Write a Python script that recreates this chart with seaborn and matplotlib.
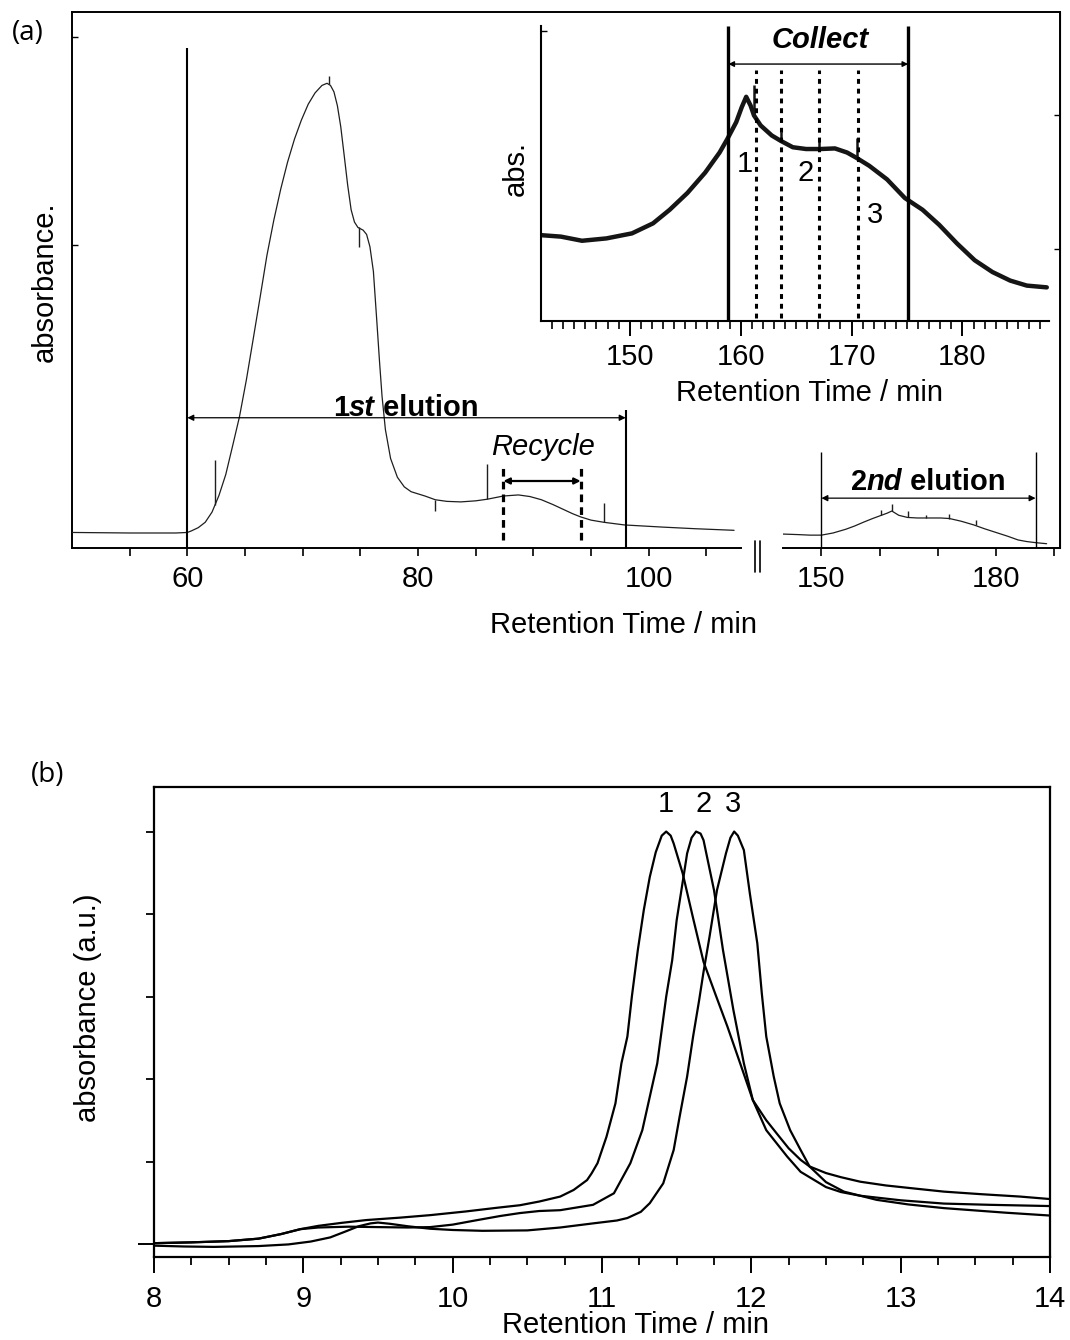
import numpy as np
import pandas as pd
import matplotlib
matplotlib.use("Agg")
import matplotlib.pyplot as plt
import seaborn as sns
from matplotlib.lines import Line2D
from matplotlib.ticker import FixedLocator, NullFormatter

# ---------------- data ----------------
# panel (a) first elution (left part of broken axis)
main_t = [50, 55, 59, 60, 60.36, 60.95, 61.55, 62.14, 62.74, 63.33, 63.93, 64.52, 65.12, 65.71,
          66.31, 66.9, 67.5, 68.1, 68.69, 69.29, 69.88, 70.48, 71.07, 71.67, 72.11, 72.41, 72.71,
          73.01, 73.3, 73.6, 73.9, 74.2, 74.49, 74.79, 75.24, 75.54, 75.83, 76.13, 76.43, 76.67,
          76.88, 77.17, 77.62, 78.21, 78.81, 79.4, 80.6, 81.5, 82.5, 83.7, 85.0, 86.0, 87.4,
          88.7, 89.7, 90.7, 91.7, 92.6, 93.4, 94.1, 95.0, 96.1, 97.9, 101.2, 104.0, 107.4]
main_a = [0.029, 0.028, 0.028, 0.029, 0.032, 0.038, 0.048, 0.067, 0.098, 0.137, 0.191, 0.245,
          0.314, 0.39, 0.468, 0.546, 0.612, 0.67, 0.72, 0.763, 0.798, 0.828, 0.849, 0.863, 0.867,
          0.863, 0.851, 0.825, 0.786, 0.732, 0.677, 0.631, 0.608, 0.598, 0.593, 0.585, 0.562,
          0.516, 0.422, 0.345, 0.283, 0.221, 0.167, 0.132, 0.114, 0.105, 0.097, 0.09, 0.087,
          0.086, 0.088, 0.091, 0.097, 0.099, 0.096, 0.09, 0.081, 0.072, 0.064, 0.058, 0.052,
          0.048, 0.043, 0.039, 0.036, 0.033]
main_spike_t = [62.4, 72.3, 74.9, 81.5, 86.0, 96.1]
main_spike_lo = [0.08, 0.866, 0.562, 0.069, 0.091, 0.048]
main_spike_hi = [0.165, 0.880, 0.598, 0.090, 0.157, 0.084]

# panel (a) second elution (right part of broken axis)
sec_t = [143.4, 146, 148, 150, 152, 154.2, 155.7, 157.2, 158.8, 160.3, 161.3, 162.1, 162.7, 163.3,
         164.8, 166.5, 168.6, 170.5, 172, 174, 176.2, 178, 180, 182, 183.8, 185.3, 186.8, 188.7]
sec_a = [0.026, 0.025, 0.024, 0.024, 0.028, 0.035, 0.041, 0.048, 0.055, 0.061, 0.065, 0.069,
         0.065, 0.061, 0.057, 0.056, 0.056, 0.056, 0.055, 0.05, 0.043, 0.036, 0.029, 0.022,
         0.015, 0.012, 0.010, 0.008]
sec_spike_t = [160.3, 162.2, 164.8, 168.0, 172.0, 176.5]
sec_spike_lo = [0.061, 0.069, 0.057, 0.056, 0.055, 0.043]
sec_spike_hi = [0.071, 0.082, 0.069, 0.062, 0.064, 0.052]

# inset: zoom of the recycled fraction
ins_t = [142, 143.8, 145.7, 147.9, 150.2, 152.1, 153.6, 155.2, 156.8, 158.1, 158.8, 159.6, 160.1,
         160.5, 160.9, 161.2, 161.8, 162.8, 163.6, 164.7, 165.9, 167.2, 168.5, 169.6, 170.4,
         171.6, 173.2, 174.8, 176.4, 177.9, 179.5, 181.1, 182.7, 184.3, 185.8, 187.6]
ins_a = [0.291, 0.286, 0.272, 0.28, 0.297, 0.331, 0.377, 0.434, 0.503, 0.571, 0.617, 0.674, 0.725,
         0.76, 0.73, 0.697, 0.663, 0.629, 0.611, 0.589, 0.583, 0.583, 0.585, 0.571, 0.554, 0.526,
         0.48, 0.417, 0.377, 0.326, 0.263, 0.206, 0.166, 0.137, 0.12, 0.114]
ins_spike_t = [158.9, 161.2, 163.6, 167.1, 170.5]
ins_spike_lo = [0.617, 0.697, 0.611, 0.583, 0.554]
ins_spike_hi = [0.670, 0.800, 0.640, 0.620, 0.620]

# markers (retention times, min)
first_elution = [60, 98]
recycle_cut = [87.4, 94.1]
second_elution = [150, 186.8]
collect_cut = [158.9, 175.1]
fraction_cut = [161.4, 163.6, 167.1, 170.6]
fraction_labels = ["1", "2", "3"]
fraction_label_t = [160.4, 165.9, 172.1]
fraction_label_a = [0.531, 0.503, 0.36]

# panel (b): analytical chromatograms of fractions 1-3
b_t1 = [8.0, 8.25, 8.5, 8.7, 8.85, 8.98, 9.1, 9.25, 9.42, 9.65, 9.85, 10.09, 10.3, 10.45, 10.58,
        10.72, 10.81, 10.9, 10.93, 10.97, 11.03, 11.09, 11.13, 11.17, 11.2, 11.24, 11.28, 11.32,
        11.36, 11.4, 11.43, 11.46, 11.48, 11.54, 11.61, 11.68, 11.76, 11.84, 11.93, 12.01, 12.1,
        12.17, 12.25, 12.33, 12.39, 12.5, 12.6, 12.73, 12.9, 13.08, 13.29, 13.53, 13.8, 14.0]
b_y1 = [0.002, 0.004, 0.007, 0.013, 0.024, 0.036, 0.044, 0.051, 0.058, 0.064, 0.07, 0.079, 0.088,
        0.094, 0.103, 0.115, 0.131, 0.155, 0.171, 0.196, 0.26, 0.341, 0.438, 0.503, 0.6, 0.713,
        0.81, 0.89, 0.95, 0.99, 1.0, 0.99, 0.971, 0.899, 0.79, 0.684, 0.605, 0.527, 0.433, 0.349,
        0.3, 0.268, 0.232, 0.204, 0.188, 0.172, 0.162, 0.151, 0.142, 0.135, 0.127, 0.121, 0.115,
        0.109]
b_t2 = [8.0, 8.25, 8.5, 8.7, 8.85, 8.98, 9.1, 9.3, 9.5, 9.7, 9.85, 10.0, 10.15, 10.32, 10.45,
        10.58, 10.72, 10.94, 11.08, 11.19, 11.27, 11.32, 11.37, 11.4, 11.43, 11.47, 11.5, 11.55,
        11.57, 11.6, 11.63, 11.66, 11.68, 11.75, 11.81, 11.88, 11.95, 12.01, 12.1, 12.24, 12.33,
        12.5, 12.6, 12.73, 13.0, 13.29, 13.6, 14.0]
b_y2 = [0.002, 0.004, 0.007, 0.013, 0.024, 0.036, 0.04, 0.042, 0.041, 0.04, 0.041, 0.047, 0.057,
        0.068, 0.075, 0.08, 0.082, 0.095, 0.123, 0.196, 0.276, 0.357, 0.438, 0.519, 0.6, 0.688,
        0.785, 0.9, 0.947, 0.985, 1.0, 0.995, 0.979, 0.858, 0.713, 0.567, 0.438, 0.349, 0.276,
        0.212, 0.175, 0.138, 0.126, 0.117, 0.106, 0.098, 0.095, 0.092]
b_t3 = [8.0, 8.2, 8.4, 8.7, 8.9, 9.05, 9.18, 9.28, 9.37, 9.45, 9.5, 9.58, 9.7, 9.85, 10.0, 10.2,
        10.5, 10.72, 10.94, 11.1, 11.17, 11.26, 11.32, 11.41, 11.48, 11.52, 11.57, 11.61, 11.65,
        11.68, 11.72, 11.77, 11.83, 11.86, 11.885, 11.91, 11.95, 11.99, 12.04, 12.07, 12.1, 12.15,
        12.19, 12.26, 12.33, 12.39, 12.5, 12.62, 12.84, 13.05, 13.29, 13.7, 14.0]
b_y3 = [-0.004, -0.006, -0.007, -0.005, -0.001, 0.006, 0.016, 0.03, 0.043, 0.05, 0.052, 0.049,
        0.043, 0.037, 0.034, 0.032, 0.033, 0.04, 0.05, 0.057, 0.063, 0.078, 0.099, 0.147, 0.228,
        0.309, 0.406, 0.503, 0.59, 0.66, 0.745, 0.858, 0.947, 0.985, 1.0, 0.99, 0.955, 0.85,
        0.729, 0.608, 0.503, 0.406, 0.341, 0.276, 0.228, 0.188, 0.15, 0.127, 0.107, 0.096, 0.087,
        0.076, 0.069]
b_peak_labels = ["1", "2", "3"]
b_peak_t = [11.43, 11.68, 11.88]

# ---------------- layout helpers ----------------
W, H = 1070, 1340
sns.set_style("ticks")
plt.rcParams["font.family"] = ["Liberation Sans", "DejaVu Sans"]
plt.rcParams.update({
    "axes.edgecolor": "black", "xtick.color": "black", "ytick.color": "black",
    "text.color": "black", "axes.labelcolor": "black",
})

fig = plt.figure(figsize=(W / 100, H / 100), dpi=100)


def rect(l, t, r, b):
    return [l / W, 1 - b / H, (r - l) / W, (b - t) / H]


def px(x, y):
    return (x / W, 1 - y / H)


FS = 21
INK = "black"
LINE = "#1e1e1e"


def mixed(ax, x, y, parts, size=FS):
    """Chain text pieces (text, weight, style) left-to-right sharing the same bottom."""
    s, w, st = parts[0]
    prev = ax.text(x, y, s, fontsize=size, fontweight=w, fontstyle=st, ha="left", va="bottom")
    for s, w, st in parts[1:]:
        prev = ax.annotate(s, xy=(1, 0), xycoords=prev, fontsize=size, fontweight=w,
                           fontstyle=st, ha="left", va="bottom")


def darrow(ax, x0, x1, y, lw=1.0, ms=10):
    ax.annotate("", xy=(x1, y), xytext=(x0, y),
                arrowprops=dict(arrowstyle="<|-|>", color=INK, lw=lw, mutation_scale=ms,
                                shrinkA=0, shrinkB=0))


# ---------------- panel (a): frame ----------------
axf = fig.add_axes(rect(72, 12, 1060, 548), facecolor="white")
axf.set_xlim(0, 1)
axf.set_ylim(0, 1)
axf.spines["bottom"].set_visible(False)
for s in ["top", "left", "right"]:
    axf.spines[s].set_linewidth(1.4)
axf.set_xticks([])
axf.set_yticks([0.953, 0.565])
axf.tick_params(axis="y", direction="in", length=4, width=1, labelleft=False)
sec = axf.secondary_yaxis("right")
sec.set_yticks([0.808, 0.558])
sec.tick_params(axis="y", direction="in", length=4, width=1, labelright=False)

# left part (50-108 min)
axL = fig.add_axes(rect(72, 12, 741, 548), facecolor="none")
for s in ["top", "left", "right"]:
    axL.spines[s].set_visible(False)
axL.spines["bottom"].set_linewidth(1.4)
sns.lineplot(x=main_t, y=main_a, ax=axL, color=LINE, lw=0.9, estimator=None, sort=False,
             legend=False)
axL.vlines(main_spike_t, main_spike_lo, main_spike_hi, color=LINE, lw=1.0)
axL.set_xlim(50, 108)
axL.set_ylim(0, 1)
axL.set_yticks([])
axL.xaxis.set_major_locator(FixedLocator([60, 80, 100]))
axL.xaxis.set_minor_locator(FixedLocator([55, 65, 70, 75, 85, 90, 95, 105]))
axL.tick_params(axis="x", which="both", direction="out", length=5.5, width=1.2, labelsize=FS,
                pad=6.5)
axL.set_xlabel("")
axL.set_ylabel("")

axL.vlines([first_elution[0]], 0, 0.933, color=INK, lw=1.5)
axL.vlines([first_elution[1]], 0, 0.257, color=INK, lw=1.5)
darrow(axL, first_elution[0], first_elution[1], 0.243, lw=0.9, ms=9)
mixed(axL, 72.6, 0.236, [("1", "bold", "normal"), ("st", "bold", "italic"),
                         (" elution", "bold", "normal")])

axL.vlines(recycle_cut, 0.015, 0.151, color=INK, lw=2.3, linestyles=(0, (2.4, 1.6)))
darrow(axL, recycle_cut[0], recycle_cut[1], 0.125, lw=1.6, ms=9)
axL.text(sum(recycle_cut) / 2 + 0.1, 0.188, "Recycle", fontsize=FS, fontstyle="italic",
         ha="center", va="center")

# right part (143-191 min)
axR = fig.add_axes(rect(783, 12, 1060, 548), facecolor="none")
for s in ["top", "left", "right"]:
    axR.spines[s].set_visible(False)
axR.spines["bottom"].set_linewidth(1.4)
sns.lineplot(x=sec_t, y=sec_a, ax=axR, color=LINE, lw=0.9, estimator=None, sort=False,
             legend=False)
axR.vlines(sec_spike_t, sec_spike_lo, sec_spike_hi, color=LINE, lw=1.0)
axR.set_xlim(143.4, 191)
axR.set_ylim(0, 1)
axR.set_yticks([])
axR.xaxis.set_major_locator(FixedLocator([150, 180]))
axR.xaxis.set_minor_locator(FixedLocator([160, 170, 190]))
axR.tick_params(axis="x", which="both", direction="out", length=5.5, width=1.2, labelsize=FS,
                pad=6.5)
axR.set_xlabel("")
axR.set_ylabel("")
axR.vlines(second_elution, 0, 0.18, color=INK, lw=1.0)
darrow(axR, second_elution[0], second_elution[1], 0.093, lw=0.9, ms=9)
mixed(axR, 155.0, 0.097, [("2", "bold", "normal"), ("nd", "bold", "italic"),
                          (" elution", "bold", "normal")])

# axis break marks
for bx in (755, 760):
    fig.add_artist(Line2D([bx / W, bx / W], [1 - 541 / H, 1 - 572 / H], color=INK, lw=1.2))

fig.text(*px(623, 625), "Retention Time / min", fontsize=FS, ha="center", va="center")
fig.text(*px(45, 282), "absorbance.", fontsize=FS, rotation=90, ha="center", va="center")
fig.text(*px(28, 33), "(a)", fontsize=20, ha="center", va="center",
         family=["Open Sans", "DejaVu Sans"])

# ---------------- inset ----------------
axI = fig.add_axes(rect(541, 26, 1049, 321), facecolor="none")
axI.spines["top"].set_visible(False)
axI.spines["right"].set_visible(False)
axI.spines["left"].set_linewidth(1.5)
axI.spines["bottom"].set_linewidth(1.5)
sns.lineplot(x=ins_t, y=ins_a, ax=axI, color="#151515", lw=3.2, estimator=None, sort=False,
             legend=False)
axI.vlines(ins_spike_t, ins_spike_lo, ins_spike_hi, color="#151515", lw=1.8)
axI.set_xlim(142, 187.8)
axI.set_ylim(0, 1)
axI.set_yticks([0.983])
axI.tick_params(axis="y", direction="in", length=4, width=1, labelleft=False)
axI.xaxis.set_major_locator(FixedLocator([150, 160, 170, 180]))
axI.xaxis.set_minor_locator(FixedLocator([t for t in range(143, 188) if t % 10 != 0]))
axI.tick_params(axis="x", which="major", direction="out", length=11, width=1.4, labelsize=FS,
                pad=5)
axI.tick_params(axis="x", which="minor", direction="out", length=6, width=1.2)
axI.set_xlabel("")
axI.set_ylabel("")
axI.vlines(collect_cut, 0, 1.0, color=INK, lw=2.4)
axI.vlines(fraction_cut, 0.011, 0.851, color=INK, lw=2.2, linestyles=(0, (1.6, 1.6)))
darrow(axI, collect_cut[0], collect_cut[1], 0.871, lw=1.0, ms=8)
axI.text(sum(collect_cut) / 2 + 0.2, 0.954, "Collect", fontsize=FS, fontweight="bold",
         fontstyle="italic", ha="center", va="center")
for lab, t, a in zip(fraction_labels, fraction_label_t, fraction_label_a):
    axI.text(t, a, lab, fontsize=FS, ha="center", va="center")
fig.text(*px(810, 393), "Retention Time / min", fontsize=FS, ha="center", va="center")
fig.text(*px(516, 168), "abs.", fontsize=FS, rotation=90, ha="center", va="center")

# ---------------- panel (b) ----------------
axB = fig.add_axes(rect(154, 787, 1050, 1257), facecolor="white")
for s in axB.spines.values():
    s.set_linewidth(1.6)
for tt, yy in ((b_t1, b_y1), (b_t2, b_y2), (b_t3, b_y3)):
    sns.lineplot(x=tt, y=yy, ax=axB, color=INK, lw=1.6, estimator=None, sort=False, legend=False)
axB.set_xlim(8, 14)
axB.set_ylim(-0.0315, 1.108)
axB.xaxis.set_major_locator(FixedLocator([8, 9, 10, 11, 12, 13, 14]))
axB.xaxis.set_minor_locator(FixedLocator([8 + 0.25 * i for i in range(25) if i % 4 != 0]))
axB.yaxis.set_major_locator(FixedLocator([0.0]))
axB.yaxis.set_minor_locator(FixedLocator([0.2, 0.4, 0.6, 0.8, 1.0]))
axB.yaxis.set_major_formatter(NullFormatter())
axB.tick_params(axis="x", which="major", direction="out", length=11.5, width=1.4, labelsize=FS,
                pad=8.5)
axB.tick_params(axis="x", which="minor", direction="out", length=6, width=1.3)
axB.tick_params(axis="y", which="major", direction="out", length=11.5, width=1.4, labelleft=False)
axB.tick_params(axis="y", which="minor", direction="out", length=6, width=1.3)
axB.set_xlabel("")
axB.set_ylabel("")
for lab, t in zip(b_peak_labels, b_peak_t):
    axB.text(t, 1.066, lab, fontsize=FS, ha="center", va="center")

fig.text(*px(636, 1325), "Retention Time / min", fontsize=FS, ha="center", va="center")
fig.text(*px(88, 1008), "absorbance (a.u.)", fontsize=FS, rotation=90, ha="center", va="center")
fig.text(*px(48, 775), "(b)", fontsize=20, ha="center", va="center",
         family=["Open Sans", "DejaVu Sans"])

fig.savefig("out.png", dpi=100)
